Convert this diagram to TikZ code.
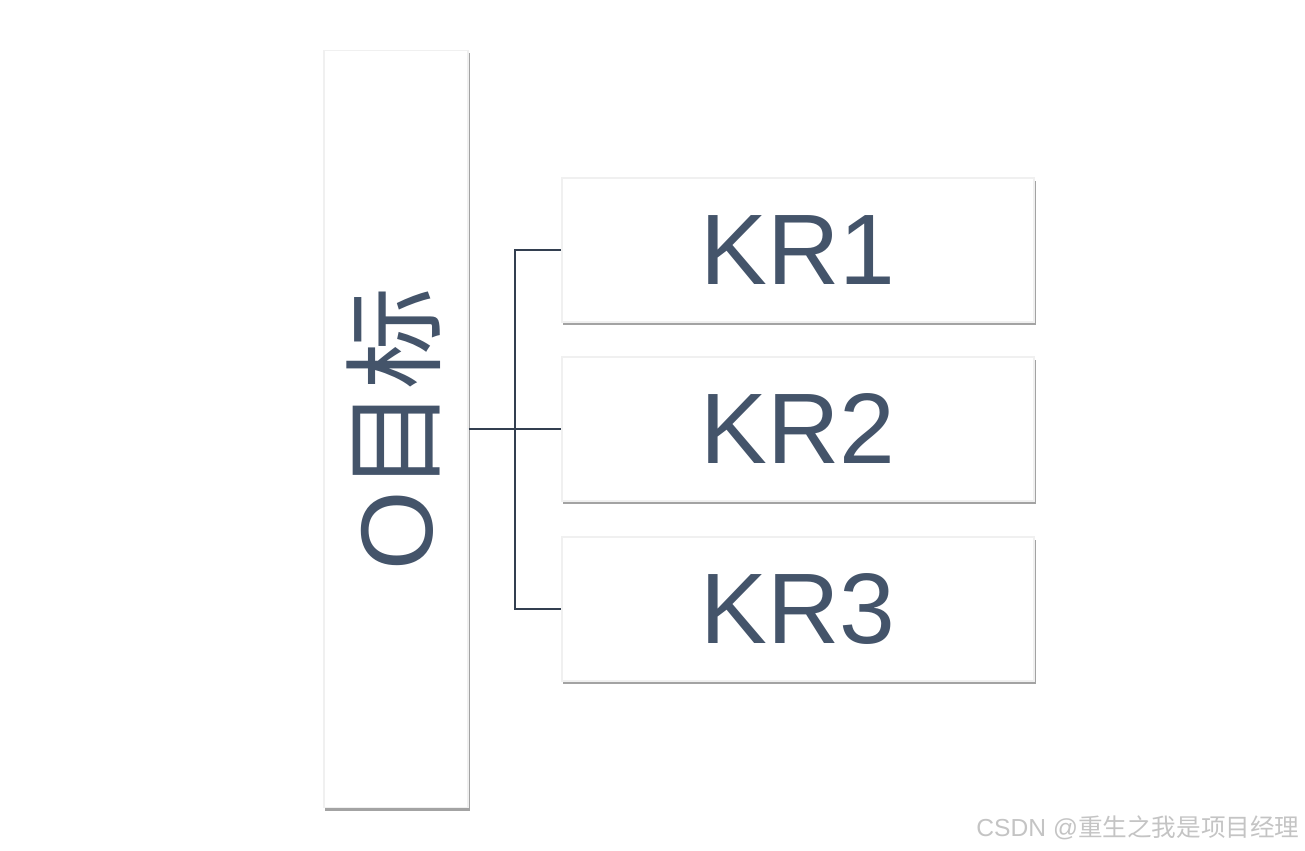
\documentclass[tikz,border=0pt]{standalone}
\usepackage{fontspec}
\setmainfont{Liberation Sans}
\newfontfamily\cjk{Noto Sans CJK SC}
\usepackage{tikz}
\usetikzlibrary{shadows, positioning}
\definecolor{slate}{RGB}{68,84,106}
\definecolor{wire}{RGB}{51,63,80}
\definecolor{mark}{RGB}{196,196,196}

\begin{document}
\begin{tikzpicture}[x=0.01cm, y=0.01cm,
  card/.style={rectangle, draw=gray!12, fill=white, text=slate, align=center,
    drop shadow={shadow xshift=0.015cm, shadow yshift=-0.03cm, opacity=0.8, fill=gray!90}},
  link/.style={draw=wire, line width=0.6pt}
]
\useasboundingbox (0,0) rectangle (1305,850);
\node[card, minimum width=1.44cm, minimum height=7.57cm] (obj) at (396, 421) {};
\node[text=slate, rotate=90, font=\fontsize{29}{34}\selectfont] (objtxt) at ([xshift=-0.02cm]obj.center) {O{\cjk 目标}};
\node[card, minimum width=4.72cm, minimum height=1.44cm, font=\fontsize{28.5}{34}\selectfont] (kr1) at (798, 600) {KR1};
\node[card, minimum width=4.72cm, minimum height=1.44cm, font=\fontsize{28.5}{34}\selectfont] (kr2) at (798, 421) {KR2};
\node[card, minimum width=4.72cm, minimum height=1.44cm, font=\fontsize{28.5}{34}\selectfont] (kr3) at (798, 241) {KR3};
\coordinate (fork) at (515, 421);

\draw[link] (obj.east) -- (fork);
\draw[link] (fork) |- (kr1.west);
\draw[link] (fork) |- (kr2.west);
\draw[link] (fork) |- (kr3.west);

\node[anchor=east, text=mark, font=\fontsize{7}{9}\selectfont] (wm) at (1312, 22) {CSDN @{\cjk 重生之我是项目经理}};
\end{tikzpicture}
\end{document}
